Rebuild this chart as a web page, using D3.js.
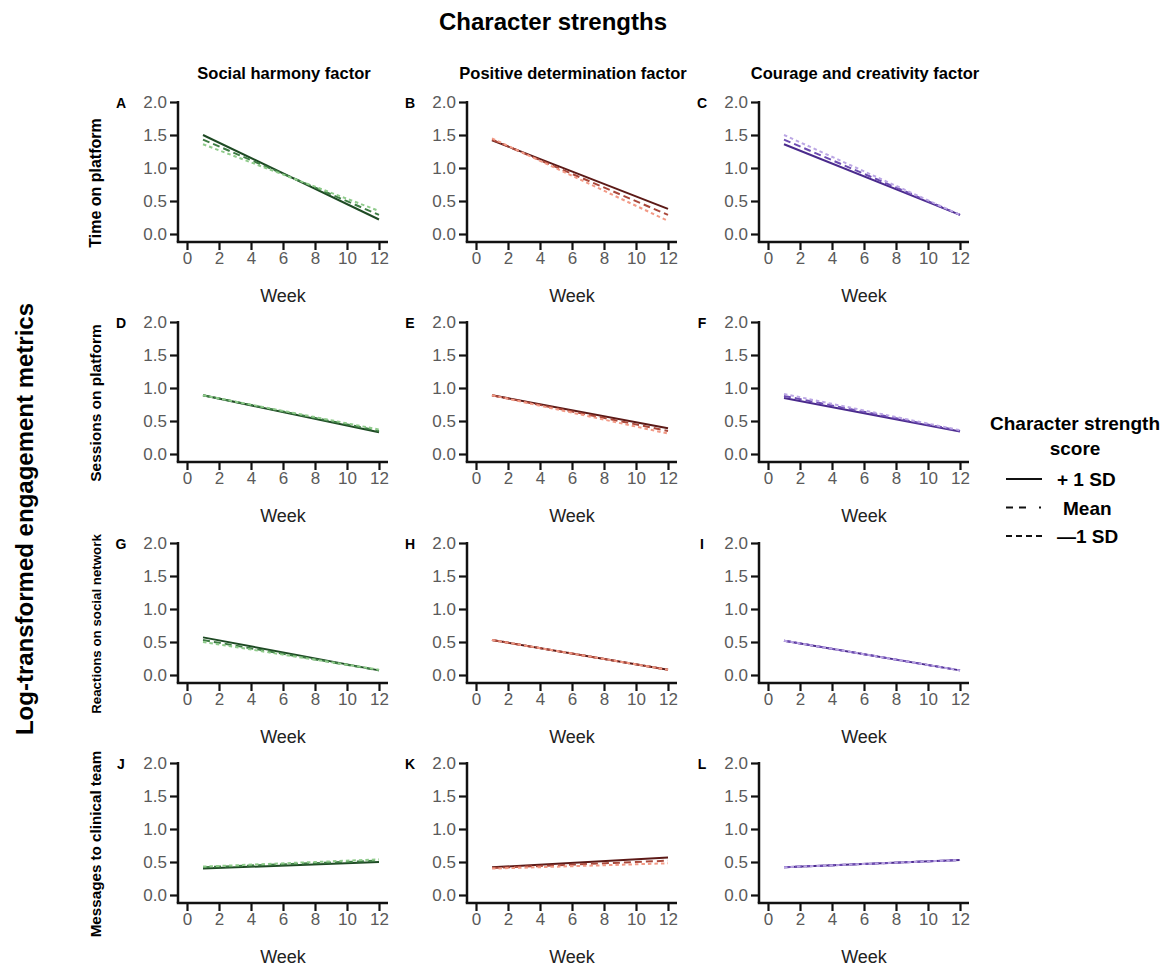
<!DOCTYPE html>
<html>
<head>
<meta charset="utf-8">
<script src="https://cdn.jsdelivr.net/npm/d3@7"></script>
<style>
  body { margin: 0; background: #fff; }
  svg text { font-family: "Liberation Sans", Arial, sans-serif; }
</style>
</head>
<body>
<svg id="chart" width="1170" height="967"></svg>
<script>
// panels go A..L, row by row (metric), column by column (factor)
var factors = ['Social harmony factor', 'Positive determination factor', 'Courage and creativity factor'];
var metrics = ['Time on platform', 'Sessions on platform', 'Reactions on social network', 'Messages to clinical team'];
var letters = ['A', 'B', 'C', 'D', 'E', 'F', 'G', 'H', 'I', 'J', 'K', 'L'];
var weeks = [1, 12];
var weekTicks = [0, 2, 4, 6, 8, 10, 12];
var valueTicks = [0, 0.5, 1, 1.5, 2];

// fitted values at week 1 and week 12
var plusSD = [[1.50, 0.22], [1.42, 0.38], [1.36, 0.29],
              [0.89, 0.33], [0.89, 0.39], [0.85, 0.34],
              [0.57, 0.07], [0.53, 0.08], [0.52, 0.07],
              [0.40, 0.50], [0.42, 0.57], [0.42, 0.53]];
var meanSD = [[1.43, 0.29], [1.43, 0.29], [1.43, 0.29],
              [0.89, 0.35], [0.89, 0.35], [0.88, 0.35],
              [0.53, 0.07], [0.53, 0.08], [0.52, 0.07],
              [0.42, 0.52], [0.41, 0.52], [0.42, 0.53]];
var minusSD = [[1.36, 0.35], [1.45, 0.20], [1.50, 0.29],
               [0.89, 0.37], [0.89, 0.31], [0.91, 0.36],
               [0.50, 0.08], [0.53, 0.08], [0.52, 0.07],
               [0.43, 0.54], [0.40, 0.48], [0.42, 0.53]];

var legendLabels = ['+ 1 SD', 'Mean', '\u20141 SD'];

var colColors = [
    ['#1e4a24', '#3e7d44', '#8fcb8b'],
    ['#5c1a17', '#a9473a', '#f29a86'],
    ['#4a2a8c', '#6d4cb2', '#bba6e4']
];
var dashes = [null, '7,4', '3.5,3'];

var svg = d3.select('#chart');

var colX = [178, 467, 759];
var rowY = [102, 322, 543, 763];

svg.append('text').attr('x', 553).attr('y', 30).attr('text-anchor', 'middle')
    .attr('font-size', 24).attr('font-weight', 'bold').text('Character strengths');

svg.append('text').attr('transform', 'translate(33,519) rotate(-90)').attr('text-anchor', 'middle')
    .attr('font-size', 24).attr('font-weight', 'bold').text('Log-transformed engagement metrics');

factors.forEach(function (f, c) {
    svg.append('text').attr('x', colX[c] + 106).attr('y', 79).attr('text-anchor', 'middle')
        .attr('font-size', 16.5).attr('font-weight', 'bold').text(f);
});

var metricSize = [16, 15.5, 13.3, 15.2];

for (let r = 0; r < metrics.length; r++) {
    svg.append('text')
        .attr('transform', 'translate(' + 101 + ',' + (rowY[r] + 81) + ') rotate(-90)')
        .attr('text-anchor', 'middle').attr('font-size', metricSize[r]).attr('font-weight', 'bold')
        .text(metrics[r]);

    for (let c = 0; c < factors.length; c++) {
        let i = r * 3 + c;
        let x0 = colX[c], y0 = rowY[r];
        let x = d3.scaleLinear().domain([-0.5625, 12.5625]).range([x0, x0 + 210]);
        let y = d3.scaleLinear().domain([0, 2]).range([y0 + 132, y0]);
        let yBottom = y0 + 140;

        let g = svg.append('g');

        // y axis
        let ya = g.append('g').attr('transform', 'translate(' + x0 + ',0)')
            .call(d3.axisLeft(y).tickValues(valueTicks).tickFormat(d3.format('.1f')).tickSize(8).tickPadding(3));
        ya.select('.domain').remove();
        ya.append('line').attr('x1', 0).attr('x2', 0).attr('y1', y0 - 1).attr('y2', yBottom)
            .attr('stroke', '#111').attr('stroke-width', 2.5);

        // x axis
        let xa = g.append('g').attr('transform', 'translate(0,' + yBottom + ')')
            .call(d3.axisBottom(x).tickValues(weekTicks).tickSize(8).tickPadding(2));
        xa.select('.domain').remove();
        xa.append('line').attr('x1', x0 - 1.25).attr('x2', x0 + 210).attr('y1', 0).attr('y2', 0)
            .attr('stroke', '#111').attr('stroke-width', 2.5);

        g.selectAll('.tick line').attr('stroke', '#111').attr('stroke-width', 2.2);
        g.selectAll('.tick text').attr('fill', '#5a5a5a').attr('font-size', 17)
            .style('font-family', '"Liberation Sans", Arial, sans-serif');

        g.append('text').attr('x', x(6)).attr('y', y0 + 200).attr('text-anchor', 'middle')
            .attr('font-size', 18).attr('fill', '#222').text('Week');

        g.append('text').attr('x', x0 - 57).attr('y', y0 + 6).attr('text-anchor', 'middle')
            .attr('font-size', 14).attr('font-weight', 'bold').text(letters[i]);

        let line = d3.line().x(function (d) { return x(d[0]); }).y(function (d) { return y(d[1]); });
        let series = [plusSD[i], meanSD[i], minusSD[i]];
        // solid first, the dashed ones on top of it
        for (let s = 0; s < 3; s++) {
            let pts = weeks.map(function (w, k) { return [w, series[s][k]]; });
            g.append('path').attr('d', line(pts)).attr('fill', 'none')
                .attr('stroke', colColors[c][s]).attr('stroke-width', 2)
                .attr('stroke-dasharray', dashes[s]);
        }
    }
}

// legend
var lg = svg.append('g');
lg.append('text').attr('x', 1075).attr('y', 430).attr('text-anchor', 'middle')
    .attr('font-size', 19).attr('font-weight', 'bold').text('Character strength');
lg.append('text').attr('x', 1075).attr('y', 455).attr('text-anchor', 'middle')
    .attr('font-size', 19).attr('font-weight', 'bold').text('score');
var legendDash = [null, '7,6,7,13,2,10', '6,4'];
legendLabels.forEach(function (lab, k) {
    let yy = 479 + k * 28.5;
    lg.append('line').attr('x1', 1006).attr('x2', 1042).attr('y1', yy).attr('y2', yy)
        .attr('stroke', '#111').attr('stroke-width', 2.2).attr('stroke-dasharray', legendDash[k]);
    lg.append('text').attr('x', k == 1 ? 1063 : 1057).attr('y', yy + 7)
        .attr('font-size', 19).attr('font-weight', 'bold').text(lab);
});
</script>
</body>
</html>
